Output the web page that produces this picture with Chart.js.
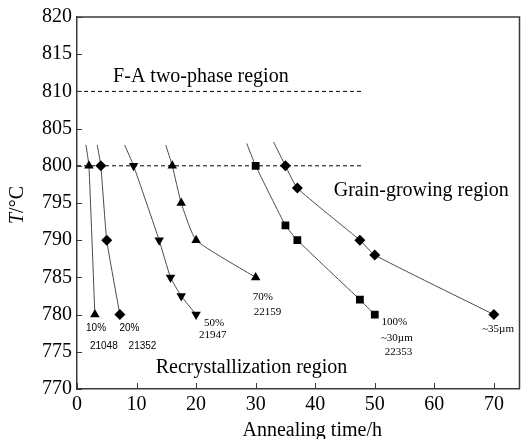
<!DOCTYPE html>
<html>
<head>
<meta charset="utf-8">
<script src="https://cdn.jsdelivr.net/npm/chart.js@4/dist/chart.umd.min.js"></script>
<style>
  body { margin: 0; background: #fff; }
</style>
</head>
<body>
<canvas id="annealChart" width="525" height="439"></canvas>
<script>
// Annealing time (h) vs temperature (°C).
// First point of each curve is only where the drawn line starts (no marker).
const xTicks = [0, 10, 20, 30, 40, 50, 60, 70];
const yTicks = [770, 775, 780, 785, 790, 795, 800, 805, 810, 815, 820];

const time10 = [1.5, 2, 3];
const temp10 = [802.8, 800, 780];
const time20 = [3.4, 4, 5, 7.2];
const temp20 = [802.8, 800, 790, 780];
const time50 = [8, 9.5, 13.8, 15.7, 17.5, 20];
const temp50 = [802.8, 800, 790, 785, 782.5, 780];
const time70 = [14.9, 16, 17.5, 20, 30];
const temp70 = [802.8, 800, 795, 790, 785];
const time100 = [28.5, 30, 35, 37, 47.5, 50];
const temp100 = [803, 800, 792, 790, 782, 780];
const time35 = [33, 35, 37, 47.5, 50, 70];
const temp35 = [803.2, 800, 797, 790, 788, 780];

// boundary lines
const faLine = [0, 48];
const faTemp = 810;
const acLine = [0, 48];
const acTemp = 800;

function pts(xs, ys) {
  return xs.map((x, i) => ({ x: x, y: ys[i] }));
}

// text labels placed in data coordinates
const regionLabels = [
  { text: 'F-A two-phase region', x: 20.8, y: 812 },
  { text: 'Grain-growing region', x: 57.8, y: 796.7 },
  { text: 'Recrystallization region', x: 29.3, y: 772.8 }
];
const sansNotes = [
  { text: '10%', x: 3.2, y: 778.2 },
  { text: '21048', x: 4.5, y: 775.8 },
  { text: '20%', x: 8.8, y: 778.2 },
  { text: '21352', x: 11, y: 775.8 }
];
const serifNotes = [
  { text: '50%', x: 23, y: 778.8 },
  { text: '21947', x: 22.8, y: 777.2 },
  { text: '70%', x: 31.2, y: 782.4 },
  { text: '22159', x: 32, y: 780.3 },
  { text: '100%', x: 53.3, y: 779 },
  { text: '~30µm', x: 53.7, y: 776.9 },
  { text: '22353', x: 54, y: 775 },
  { text: '~35µm', x: 70.7, y: 778 }
];

const SERIF = '"Liberation Serif", "DejaVu Serif", serif';
const SANS = '"Liberation Sans", Arial, sans-serif';

function curve(xs, ys, style, rot, r) {
  return {
    data: pts(xs, ys),
    showLine: true,
    borderColor: '#4a4a4a',
    borderWidth: 1,
    tension: 0.15,
    pointStyle: style,
    rotation: rot,
    pointRadius: ctx => ctx.dataIndex === 0 ? 0 : r,
    pointBackgroundColor: '#000',
    pointBorderColor: '#000',
    pointBorderWidth: 0
  };
}

function dashed(xs, t) {
  return {
    data: xs.map(x => ({ x: x, y: t })),
    showLine: true,
    borderColor: '#000',
    borderWidth: 1,
    borderDash: [4, 3],
    pointRadius: 0
  };
}

// frame, inward ticks, axis titles and the text notes
const decorations = {
  id: 'decorations',
  afterDraw(chart) {
    const ctx = chart.ctx;
    const a = chart.chartArea;
    const xs = chart.scales.x;
    const ys = chart.scales.y;
    ctx.save();

    ctx.strokeStyle = '#3a3a3a';
    ctx.lineWidth = 1.5;
    ctx.beginPath();
    ctx.moveTo(a.left, a.top);
    ctx.lineTo(a.right, a.top);
    ctx.lineTo(a.right, a.bottom);
    ctx.stroke();

    ctx.lineWidth = 1;
    ctx.beginPath();
    xTicks.forEach(v => {
      const px = Math.round(xs.getPixelForValue(v)) + 0.5;
      ctx.moveTo(px, a.bottom);
      ctx.lineTo(px, a.bottom - 6);
    });
    yTicks.forEach(v => {
      const py = Math.round(ys.getPixelForValue(v)) + 0.5;
      ctx.moveTo(a.left, py);
      ctx.lineTo(a.left + 5, py);
    });
    ctx.stroke();

    ctx.fillStyle = '#000';
    ctx.textBaseline = 'middle';
    ctx.textAlign = 'center';

    ctx.font = '20px ' + SERIF;
    regionLabels.forEach(l => {
      ctx.fillText(l.text, xs.getPixelForValue(l.x), ys.getPixelForValue(l.y));
    });
    ctx.font = '10px ' + SANS;
    sansNotes.forEach(l => {
      ctx.fillText(l.text, xs.getPixelForValue(l.x), ys.getPixelForValue(l.y));
    });
    ctx.font = '11px ' + SERIF;
    serifNotes.forEach(l => {
      ctx.fillText(l.text, xs.getPixelForValue(l.x), ys.getPixelForValue(l.y));
    });

    // x title
    ctx.font = '20px ' + SERIF;
    ctx.fillText('Annealing time/h', xs.getPixelForValue(39.5), 431);

    // y title: italic T, upright /°C
    ctx.translate(18, (a.top + a.bottom) / 2 + 2);
    ctx.rotate(-Math.PI / 2);
    ctx.textAlign = 'left';
    ctx.font = 'italic 20px ' + SERIF;
    const wT = ctx.measureText('T').width;
    ctx.font = '20px ' + SERIF;
    const wRest = ctx.measureText('/°C').width;
    const start = -(wT + wRest) / 2;
    ctx.font = 'italic 20px ' + SERIF;
    ctx.fillText('T', start, 0);
    ctx.font = '20px ' + SERIF;
    ctx.fillText('/°C', start + wT, 0);

    ctx.restore();
  }
};

new Chart(document.getElementById('annealChart'), {
  type: 'scatter',
  data: {
    datasets: [
      dashed(faLine, faTemp),
      dashed(acLine, acTemp),
      curve(time10, temp10, 'triangle', 0, 5.5),
      curve(time20, temp20, 'rectRot', 0, 5.5),
      curve(time50, temp50, 'triangle', 180, 5.5),
      curve(time70, temp70, 'triangle', 0, 5.5),
      curve(time100, temp100, 'rect', 0, 5.5),
      curve(time35, temp35, 'rectRot', 0, 5.5)
    ]
  },
  options: {
    responsive: false,
    animation: false,
    layout: { padding: { top: 14, right: 2, left: 0, bottom: 0 } },
    plugins: {
      legend: { display: false },
      tooltip: { enabled: false }
    },
    scales: {
      x: {
        type: 'linear',
        min: 0,
        max: 74.3,
        afterFit: s => { s.height = 50; },
        border: { display: true, color: '#3a3a3a', width: 1.5 },
        grid: { drawOnChartArea: false, drawTicks: false },
        ticks: {
          stepSize: 10,
          includeBounds: false,
          padding: 4,
          color: '#000',
          font: { family: SERIF, size: 20 }
        }
      },
      y: {
        type: 'linear',
        min: 770,
        max: 820,
        afterFit: s => { s.width = 77; },
        border: { display: true, color: '#3a3a3a', width: 1.5 },
        grid: { drawOnChartArea: false, drawTicks: false },
        ticks: {
          stepSize: 5,
          padding: 5,
          color: '#000',
          font: { family: SERIF, size: 20 }
        }
      }
    }
  },
  plugins: [decorations]
});
</script>
</body>
</html>
